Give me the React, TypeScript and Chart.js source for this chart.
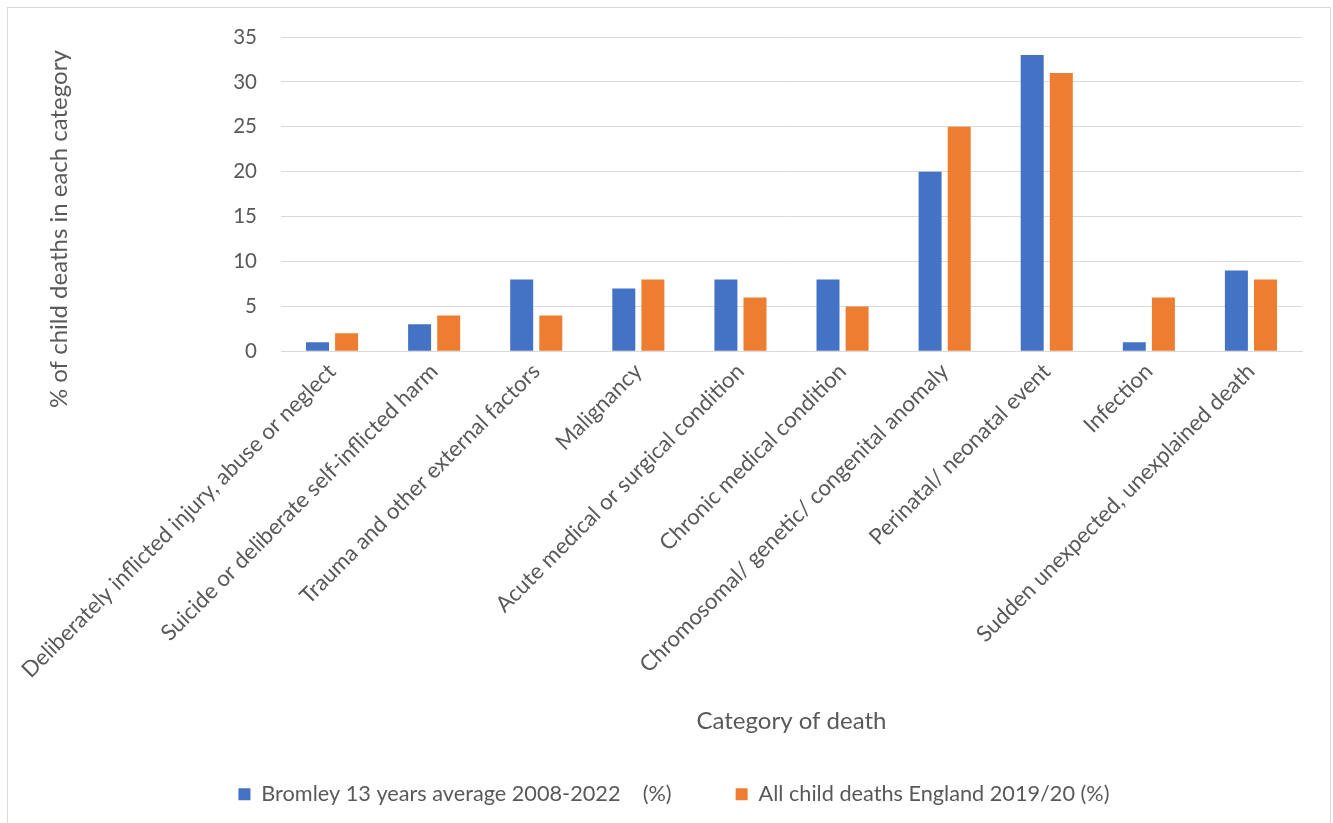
import React, { useEffect, useRef } from "react";
import { Chart, registerables } from "chart.js";

Chart.register(...registerables);

// Categories of child death
const categories = [
  "Deliberately inflicted injury, abuse or neglect",
  "Suicide or deliberate self-inflicted harm",
  "Trauma and other external factors",
  "Malignancy",
  "Acute medical or surgical condition",
  "Chronic medical condition",
  "Chromosomal/ genetic/ congenital anomaly",
  "Perinatal/ neonatal event",
  "Infection",
  "Sudden unexpected, unexplained death",
];

// Percentage of child deaths per category
const bromleyValues = [1, 3, 8, 7, 8, 8, 20, 33, 1, 9];
const englandValues = [2, 4, 4, 8, 6, 5, 25, 31, 6, 8];

const seriesLabels = [
  "Bromley 13 years average 2008-2022    (%)",
  "All child deaths England 2019/20 (%)",
];

const yAxisTitle = "% of child deaths in each category";
const xAxisTitle = "Category of death";

const Y_MIN = 0;
const Y_MAX = 35;
const Y_STEP = 5;

const FONT = "Lato, 'Open Sans', sans-serif";
const TEXT = "#595959";
const GRID = "#D9D9D9";
const BLUE = "#4472C4";
const ORANGE = "#ED7D31";

// Axis titles drawn relative to the plot area
const axisTitlesPlugin = {
  id: "axisTitles",
  afterDraw(chart: any) {
    const { ctx, chartArea } = chart;
    ctx.save();
    ctx.fillStyle = TEXT;
    ctx.font = `24px ${FONT}`;
    ctx.textAlign = "center";
    ctx.textBaseline = "middle";
    ctx.fillText(xAxisTitle, (chartArea.left + chartArea.right) / 2, chartArea.bottom + 370);
    ctx.translate(59, (chartArea.top + chartArea.bottom) / 2 + 35);
    ctx.rotate(-Math.PI / 2);
    ctx.fillText(yAxisTitle, 0, 0);
    ctx.restore();
  },
};

export default function App() {
  const canvasRef = useRef<HTMLCanvasElement | null>(null);

  useEffect(() => {
    if (!canvasRef.current) return;
    const chart = new Chart(canvasRef.current, {
      type: "bar",
      data: {
        labels: categories,
        datasets: [
          {
            label: seriesLabels[0],
            data: bromleyValues,
            backgroundColor: BLUE,
            categoryPercentage: 0.57,
            barPercentage: 0.79,
          },
          {
            label: seriesLabels[1],
            data: englandValues,
            backgroundColor: ORANGE,
            categoryPercentage: 0.57,
            barPercentage: 0.79,
          },
        ],
      },
      options: {
        responsive: false,
        animation: false,
        layout: { padding: { top: 37, left: 46, right: 31, bottom: 8 } },
        plugins: {
          tooltip: { enabled: false },
          legend: {
            position: "bottom",
            labels: {
              boxWidth: 12,
              boxHeight: 12,
              padding: 64,
              color: TEXT,
              font: { family: FONT, size: 21.7 },
            },
          },
        },
        scales: {
          x: {
            grid: { display: false, drawTicks: false },
            border: { display: true, color: GRID, width: 1 },
            ticks: {
              color: TEXT,
              font: { family: FONT, size: 22.2 },
              minRotation: 45,
              maxRotation: 45,
              autoSkip: false,
              padding: 7,
            },
            afterFit(scale: any) {
              scale.height = 368;
              scale.paddingLeft = 0;
              scale.paddingRight = 0;
            },
          },
          y: {
            min: Y_MIN,
            max: Y_MAX,
            grid: { color: GRID, lineWidth: 1, drawTicks: false },
            border: { display: false },
            ticks: {
              stepSize: Y_STEP,
              color: TEXT,
              font: { family: FONT, size: 20.5 },
              padding: 24,
            },
            afterFit(scale: any) {
              scale.width = 235;
            },
          },
        },
      },
      plugins: [axisTitlesPlugin],
    });
    return () => chart.destroy();
  }, []);

  return (
    <div
      style={{
        position: "fixed",
        left: 0,
        top: 0,
        width: 1333,
        height: 823,
        overflow: "hidden",
        background: "#ffffff",
      }}
    >
      <canvas
        ref={canvasRef}
        width={1333}
        height={823}
        style={{ position: "absolute", left: 0, top: 0 }}
      />
      <div
        style={{
          position: "absolute",
          left: 7,
          top: 7,
          width: 1324,
          height: 900,
          border: `1px solid ${GRID}`,
          boxSizing: "border-box",
          pointerEvents: "none",
        }}
      />
    </div>
  );
}
